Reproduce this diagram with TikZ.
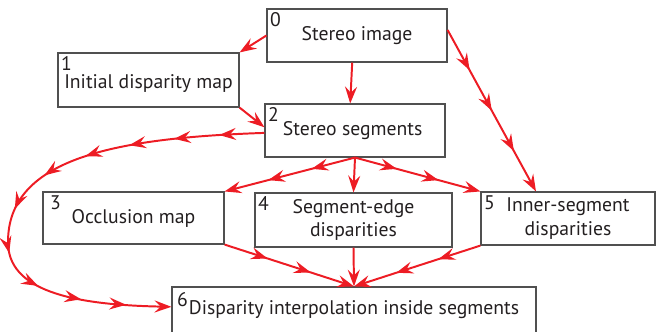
\documentclass[tikz,border=0pt]{standalone}
\usepackage{fontspec}
\setmainfont{PT Sans}
\usepackage{tikz}
\usetikzlibrary{arrows.meta,positioning,calc,decorations.markings}
\definecolor{arrred}{RGB}{237,28,36}
\definecolor{boxgray}{RGB}{80,80,80}
\definecolor{txtgray}{RGB}{35,31,32}
\tikzstyle{blk}=[draw=boxgray, line width=0.8pt, inner sep=0pt, align=center, text=txtgray]
\tikzstyle{num}=[anchor=north west, inner sep=2.5pt, text=txtgray]
\tikzstyle{arr}=[-{Stealth[length=0.42cm,width=0.3cm,inset=0.15cm]}, arrred, line width=1.4pt]
\tikzset{marr/.style={postaction={decorate}, decoration={markings,
  mark=between positions #1 and 0.99 step #1 with {\arrow{Stealth[length=0.42cm,width=0.3cm,inset=0.15cm]}}}}}

\begin{document}
\begin{tikzpicture}[every node/.style={font=\fontsize{14}{16.5}\selectfont}]
  \useasboundingbox (0,0) rectangle (16.425,-8.275);

  % blocks
  \node[blk, minimum width=4.5cm, minimum height=1.325cm] (b0) at (8.925,-0.8875) {Stereo image};
  \node[blk, minimum width=4.525cm, minimum height=1.35cm, text height=0.55cm] (b1) at (3.7125,-2.0) {Initial disparity map};
  \node[blk, minimum width=4.5cm, minimum height=1.325cm] (b2) at (8.875,-3.2625) {Stereo segments\hspace{0.12cm}};
  \node[blk, minimum width=4.525cm, minimum height=1.3cm] (b3) at (3.3375,-5.45) {Occlusion map};
  \node[blk, minimum width=4.925cm, minimum height=1.35cm] (b4) at (8.8375,-5.5) {Segment-edge\\disparities};
  \node[blk, minimum width=4.35cm, minimum height=1.325cm] (b5) at (14.2,-5.4625) {Inner-segment\\disparities};
  \node[blk, minimum width=9.1cm, minimum height=1.15cm] (b6) at (8.85,-7.75) {Disparity interpolation inside segments};

  % numbers
  \node[num] (n0) at (b0.north west) {0};
  \node[num] (n1) at (b1.north west) {1};
  \node[num] (n2) at (b2.north west) {2};
  \node[num] (n3) at ([xshift=0.1cm]b3.north west) {3};
  \node[num] (n4) at (b4.north west) {4};
  \node[num] (n5) at (b5.north west) {5};
  \node[num] (n6) at ([xshift=0.05cm,yshift=-0.05cm]b6.north west) {6};

  % from the stereo image
  \draw[arr] (b0.west) -- (b1.north east);
  \draw[arr] ([xshift=-0.12cm]b0.south) -- ([xshift=-0.12cm]b2.north);
  \draw[arr, marr=0.25] ([yshift=0.14cm]b0.east) -- ([xshift=-0.8cm]b5.north);
  \draw[arr] (b1.south east) -- ([yshift=0.08cm]b2.west);

  % from the segments
  \draw[arr, marr=0.333] (b2.south) -- (b3.north east);
  \draw[arr] (b2.south) -- (b4.north);
  \draw[arr, marr=0.333] (b2.south) -- (b5.north west);
  \draw[arr, marr=0.0909] ([yshift=-0.06cm]b2.west) .. controls (2.75,-3.45) and (0.2,-4.0) .. (0.2,-6.05)
    .. controls (0.2,-7.25) and (1.75,-7.62) .. ([yshift=0.08cm]b6.west);

  % into the interpolation
  \draw[arr, marr=0.333] (b3.south east) -- (b6.north);
  \draw[arr] (b4.south) -- (b6.north);
  \draw[arr, marr=0.333] (b5.south west) -- (b6.north);

\end{tikzpicture}
\end{document}
